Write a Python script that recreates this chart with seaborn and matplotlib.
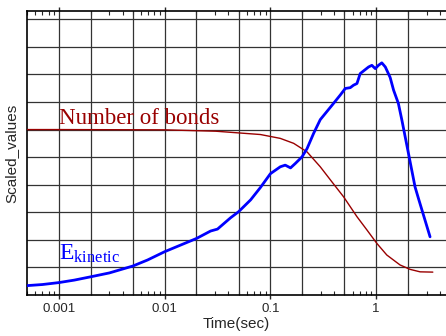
import matplotlib
matplotlib.use("Agg")
import matplotlib.pyplot as plt
import seaborn as sns
from matplotlib.ticker import FixedLocator, NullFormatter

# Kinetic energy (blue)
ek_time = [0.0005, 0.0007, 0.001, 0.0014, 0.002, 0.003, 0.005, 0.0069, 0.01, 0.02,
           0.0272, 0.0316, 0.042, 0.05, 0.065, 0.0805, 0.1, 0.124, 0.138, 0.155,
           0.172, 0.199, 0.222, 0.256, 0.296, 0.382, 0.457, 0.51, 0.569, 0.611,
           0.658, 0.706, 0.847, 0.91, 0.98, 1.05, 1.13, 1.22, 1.355, 1.46,
           1.62, 1.75, 2.02, 2.33, 2.51, 3.23]
ek_value = [0.034, 0.038, 0.045, 0.054, 0.066, 0.08, 0.105, 0.127, 0.157, 0.205,
            0.232, 0.239, 0.28, 0.302, 0.345, 0.39, 0.44, 0.465, 0.471, 0.461,
            0.477, 0.501, 0.531, 0.586, 0.636, 0.688, 0.725, 0.749, 0.752, 0.761,
            0.767, 0.803, 0.827, 0.833, 0.821, 0.833, 0.842, 0.827, 0.789, 0.743,
            0.695, 0.634, 0.513, 0.392, 0.35, 0.211]

# Number of bonds (dark red)
nb_time = [0.0005, 0.001, 0.01, 0.0305, 0.0805, 0.124, 0.166, 0.222, 0.296, 0.382,
           0.492, 0.658, 0.817, 1.015, 1.26, 1.68, 2.09, 2.6, 3.43]
nb_value = [0.60, 0.60, 0.599, 0.594, 0.582, 0.568, 0.55, 0.519, 0.465, 0.41,
            0.356, 0.284, 0.236, 0.187, 0.145, 0.109, 0.093, 0.084, 0.083]

major_ticks = [0.001, 0.01, 0.1, 1]
major_labels = ["0.001", "0.01", "0.1", "1"]
grid_x = [0.001, 0.002, 0.005, 0.01, 0.02, 0.05, 0.1, 0.2, 0.5, 1, 2]
grid_y = [0.1, 0.2, 0.3, 0.4, 0.5, 0.6, 0.7, 0.8, 0.9, 1.0]

sns.set_style("white")
plt.rcParams['font.family'] = ['Liberation Sans', 'DejaVu Sans']
plt.rcParams['mathtext.fontset'] = 'custom'
plt.rcParams['mathtext.rm'] = 'Liberation Serif'

fig = plt.figure(figsize=(4.46, 3.36), dpi=100)
ax = fig.add_axes([27 / 446, 41 / 336, 1 - 27 / 446, 284 / 336])

# grid drawn by hand: only at 1, 2, 5 of each decade
for gx in grid_x:
    ax.axvline(gx, color='#333333', lw=0.9, zorder=1)
for gy in grid_y:
    ax.axhline(gy, color='#333333', lw=0.9, zorder=1)

sns.lineplot(x=nb_time, y=nb_value, color='#990000', lw=1.0, sort=False,
             estimator=None, ax=ax, zorder=3)
sns.lineplot(x=ek_time, y=ek_value, color='#0000ff', lw=2.0, sort=False,
             estimator=None, ax=ax, zorder=4)

ax.set_xscale('log')
ax.set_xlim(0.0005, 4.57)
ax.set_ylim(0, 1.03)

ax.xaxis.set_major_locator(FixedLocator(major_ticks))
ax.set_xticklabels(major_labels)
minor = [m * 10.0 ** e for e in range(-4, 1) for m in range(2, 10)]
ax.xaxis.set_minor_locator(FixedLocator(minor))
ax.xaxis.set_minor_formatter(NullFormatter())
ax.tick_params(axis='x', which='major', direction='out', length=3, width=1,
               top=True, bottom=True, labelsize=9.5, pad=3)
ax.tick_params(axis='x', which='minor', direction='in', length=3, width=0.8,
               top=True, bottom=True)
ax.set_yticks([])

for side in ['left', 'top', 'bottom']:
    ax.spines[side].set_color('black')
    ax.spines[side].set_linewidth(1.2)
ax.spines['right'].set_visible(False)

ax.set_xlabel('Time(sec)', fontsize=11, labelpad=1)
ax.set_ylabel('Scaled_values', fontsize=11, labelpad=6)

ax.text(0.001, 0.62, 'Number of bonds', color='#990000', fontsize=16.5,
        family='Liberation Serif', ha='left', va='baseline', zorder=5)
ax.text(0.001, 0.127, r'$\mathrm{E_{kinetic}}$', color='#0000ff', fontsize=17,
        ha='left', va='baseline', zorder=5)

plt.savefig('out.png', dpi=100)
